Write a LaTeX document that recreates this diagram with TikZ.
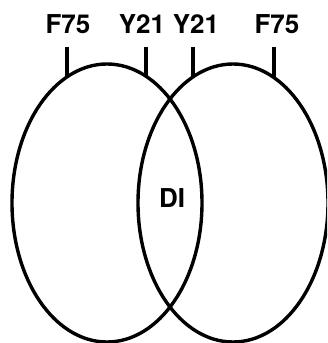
\documentclass[tikz,border=0pt]{standalone}
\usepackage{fontspec}
\setmainfont{TeX Gyre Heros}
\begin{document}
\begin{tikzpicture}[x=1pt,y=-1pt,
  ring/.style={draw=black,line width=3.4pt},
  tick/.style={draw=black,line width=3.4pt},
  lab/.style={anchor=base,inner sep=0pt,font=\fontsize{26}{26}\selectfont\bfseries}]
\useasboundingbox (0,0) rectangle (327,343);
\coordinate (cL) at (107,203);
\coordinate (cR) at (233,203);
\begin{scope}
\clip (0,0) rectangle (327,343);
\draw[ring] (cL) ellipse [x radius=95pt, y radius=139pt];
\draw[ring] (cR) ellipse [x radius=95pt, y radius=139pt];
\end{scope}
\node[lab] (f1) at (68,33) {F75};
\node[lab] (y1) at (142,33) {Y21};
\node[lab] (y2) at (196,33) {Y21};
\node[lab] (f2) at (277,33) {F75};
\node[lab] (di) at (172,207) {DI};
\coordinate (t1a) at (67,47);
\coordinate (t2a) at (146,47);
\coordinate (t3a) at (193,47);
\coordinate (t4a) at (274,47);
\coordinate (t1b) at (67,77);
\coordinate (t2b) at (146,77);
\coordinate (t3b) at (193,77);
\coordinate (t4b) at (274,77);
\draw[tick] (t1a) -- (t1b);
\draw[tick] (t2a) -- (t2b);
\draw[tick] (t3a) -- (t3b);
\draw[tick] (t4a) -- (t4b);
\end{tikzpicture}
\end{document}
